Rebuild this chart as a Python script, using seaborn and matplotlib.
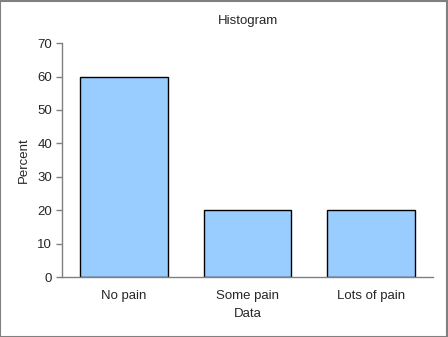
import pandas as pd
from matplotlib import pyplot as plt
import seaborn as sns

categories = ['No pain', 'Some pain', 'Lots of pain']
percent = [60, 20, 20]

bar_color = '#99CCFF'
axis_grey = '#808080'

sns.set_style('white')
plt.rcParams['font.family'] = ['Liberation Sans', 'DejaVu Sans']

data = pd.DataFrame({'Data': categories, 'Percent': percent})

fig = plt.figure(figsize=(4.48, 3.37), dpi=100)
ax = fig.add_axes([0.138, 0.178, 0.829, 0.694])

sns.barplot(data=data, x='Data', y='Percent', color=bar_color, width=0.71,
            edgecolor='black', linewidth=1, saturation=1, ax=ax)

fs = 9.5
ax.set_ylim(0, 70)
ax.set_yticks(range(0, 71, 10))
ax.set_xlim(-0.5, 2.5)
ax.set_title('Histogram', fontsize=fs, pad=14)
ax.set_xlabel('Data', fontsize=fs, labelpad=5)
ax.set_ylabel('Percent', fontsize=fs, labelpad=5)
ax.tick_params(axis='y', length=4, width=1, color=axis_grey, labelsize=fs, left=True, direction='out', pad=3)
ax.tick_params(axis='x', length=0, labelsize=fs, pad=9)

sns.despine(ax=ax)
for side in ['left', 'bottom']:
    ax.spines[side].set_color(axis_grey)
    ax.spines[side].set_linewidth(1)

# grey frame round the whole figure
fig.patches.append(plt.Rectangle((0.001, 0.001), 0.997, 0.996, transform=fig.transFigure,
                                 fill=False, edgecolor=axis_grey, linewidth=1.5))

plt.savefig('out.png', dpi=100)
